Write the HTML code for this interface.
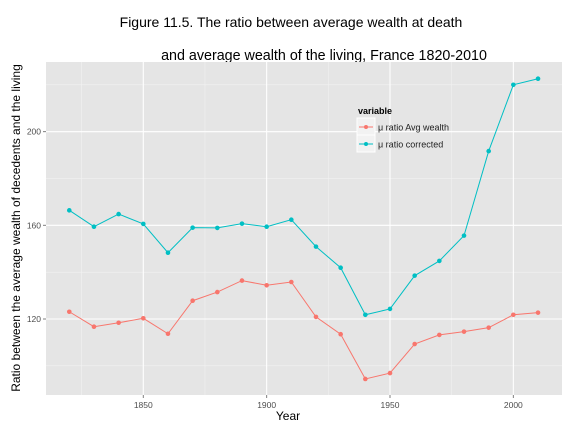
<!DOCTYPE html>
<html><head><meta charset="utf-8"><style>
body{margin:0;background:#fff;font-family:"Liberation Sans",sans-serif}
svg text{font-family:"Liberation Sans",sans-serif}
</style></head><body>
<svg width="576" height="432" viewBox="0 0 576 432">
<text x="291" y="27" text-anchor="middle" font-size="14">Figure 11.5. The ratio between average wealth at death</text>
<text x="324" y="60" text-anchor="middle" font-size="14.3">and average wealth of the living, France 1820-2010</text>
<rect x="46" y="62" width="516" height="333" fill="#e5e5e5"/>
<g id="grid"></g>
<g id="axes"></g>
<g id="series"></g>
<text x="288" y="420" text-anchor="middle" font-size="12">Year</text>
<text transform="translate(20,228) rotate(-90)" text-anchor="middle" font-size="12">Ratio between the average wealth of decedents and the living</text>
<g>
<text x="358" y="114" font-size="9" font-weight="bold">variable</text>
<rect x="357" y="118" width="18" height="17" fill="#f2f2f2" stroke="#fff"/>
<line x1="359" y1="127" x2="373" y2="127" stroke="#F8766D"/><circle cx="366" cy="127" r="2" fill="#F8766D"/>
<text x="378" y="130.5" font-size="9" fill="#222">μ ratio Avg wealth</text>
<rect x="357" y="135" width="18" height="17" fill="#f2f2f2" stroke="#fff"/>
<line x1="359" y1="144" x2="373" y2="144" stroke="#00BFC4"/><circle cx="366" cy="144" r="2" fill="#00BFC4"/>
<text x="378" y="147.5" font-size="9" fill="#222">μ ratio corrected</text>
</g>
</svg>
<script>
const years=[1820,1830,1840,1850,1860,1870,1880,1890,1900,1910,1920,1930,1940,1950,1960,1970,1980,1990,2000,2010];
const avgWealth=[123.1,116.7,118.4,120.3,113.7,127.8,131.5,136.4,134.4,135.8,120.9,113.5,94.4,96.9,109.3,113.2,114.6,116.3,121.8,122.7];
const corrected=[166.4,159.4,164.8,160.6,148.3,159.0,158.9,160.7,159.4,162.4,150.9,141.9,121.8,124.3,138.5,144.8,155.6,191.7,220.0,222.6];
const xTicks=[1850,1900,1950,2000];
const xMinor=[1825,1875,1925,1975];
const yTicks=[120,160,200];
const yMinor=[100,140,180,220];
const NS="http://www.w3.org/2000/svg";
const X=v=>143.3+(v-1850)*2.467;
const Y=v=>319-(v-120)*2.342;
function mk(tag,attrs,parent){const e=document.createElementNS(NS,tag);for(const k in attrs)e.setAttribute(k,attrs[k]);document.getElementById(parent).appendChild(e);return e;}
xMinor.forEach(v=>{const l=mk('line',{x1:X(v),x2:X(v),y1:62,y2:395,stroke:'#f2f2f2','stroke-width':0.6},'grid');

});
yMinor.forEach(v=>{const l=mk('line',{x1:46,x2:562,y1:Y(v),y2:Y(v),stroke:'#f2f2f2','stroke-width':0.6},'grid');

});
xTicks.forEach(v=>{const l=mk('line',{x1:X(v),x2:X(v),y1:62,y2:395,stroke:'#fff','stroke-width':1.1},'grid');


const t=mk('line',{x1:X(v),x2:X(v),y1:395,y2:398,stroke:'#7f7f7f'},'axes');


const tx=mk('text',{x:X(v),y:408,'text-anchor':'middle','font-size':8.5,fill:'#4d4d4d'},'axes');tx.textContent=v;

});
yTicks.forEach(v=>{const l=mk('line',{x1:46,x2:562,y1:Y(v),y2:Y(v),stroke:'#fff','stroke-width':1.1},'grid');


const t=mk('line',{x1:43,x2:46,y1:Y(v),y2:Y(v),stroke:'#7f7f7f'},'axes');


const tx=mk('text',{x:41,y:Y(v)+3,'text-anchor':'end','font-size':8.5,fill:'#4d4d4d'},'axes');tx.textContent=v;

});
function series(vals,color,name){
const p=mk('polyline',{points:years.map((y,i)=>X(y)+','+Y(vals[i])).join(' '),fill:'none',stroke:color,'stroke-width':1},'series');


years.forEach((y,i)=>{const r=mk('circle',{cx:X(y),cy:Y(vals[i]),r:2.3,fill:color},'series');

});}
series(avgWealth,'#F8766D','avg-wealth');
series(corrected,'#00BFC4','corrected');
</script>
</body></html>
